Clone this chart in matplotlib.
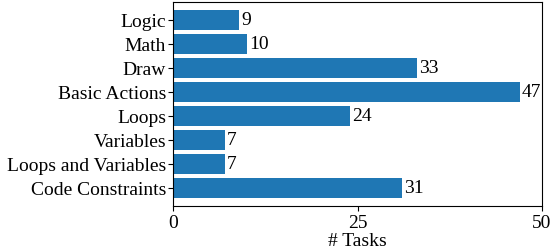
import matplotlib
matplotlib.use("Agg")
import matplotlib.pyplot as plt

plt.rcParams['font.family'] = ['Liberation Serif', 'DejaVu Serif']

categories = ["Logic", "Math", "Draw", "Basic Actions", "Loops", "Variables",
              "Loops and Variables", "Code Constraints"]
counts = [9, 10, 33, 47, 24, 7, 7, 31]

fig = plt.figure(figsize=(5.52, 2.51), dpi=100)
ax = fig.add_axes([173/552, 1 - 207/251, (542-173)/552, (207-3)/251])

pos = list(range(len(categories)))
bars = ax.barh(pos, counts, height=0.8, color="#1f77b4")
for y, v in zip(pos, counts):
    ax.text(v + 0.3, y, str(v), va="center", ha="left", fontsize=14)

ax.set_yticks(pos)
ax.set_yticklabels(categories, fontsize=14)
ax.tick_params(axis="y", pad=1.5)
ax.set_ylim(7.75, -0.75)
ax.set_xlim(0, 50)
ax.set_xticks([0, 25, 50])
ax.tick_params(axis="x", labelsize=14, pad=2)
ax.set_xlabel("# Tasks", fontsize=14, labelpad=1)

fig.savefig("out.png", dpi=100)
